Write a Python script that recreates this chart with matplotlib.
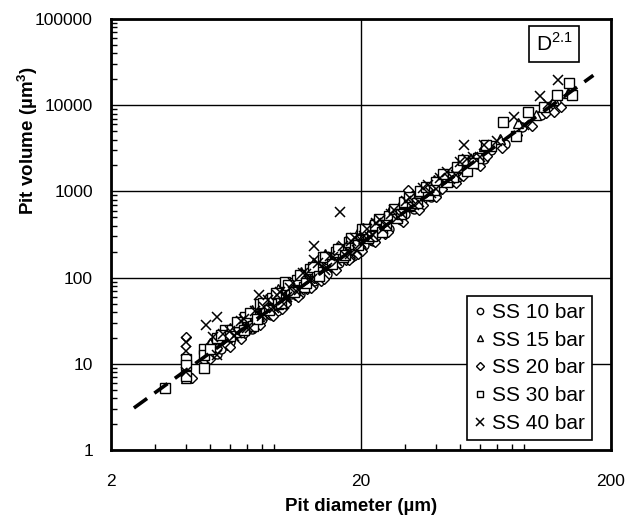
import matplotlib
matplotlib.use("Agg")
import matplotlib.pyplot as plt
from matplotlib.ticker import FixedLocator, LogLocator, NullFormatter, FixedFormatter

plt.rcParams['font.family'] = ['Liberation Sans', 'DejaVu Sans']
plt.rcParams['mathtext.fontset'] = 'custom'
plt.rcParams['mathtext.rm'] = 'Liberation Sans'
plt.rcParams['mathtext.bf'] = 'Liberation Sans:bold'

# ---- data ----
D10 = [4.0, 4.7, 5.3, 5.6, 6.0, 6.3, 6.7, 7.0, 7.3, 7.7, 8.0, 8.4, 8.8, 9.2, 9.6, 10.0, 10.5, 11.0, 11.6, 12.2,
       12.8, 13.5, 14.2, 15.0, 15.8, 16.7, 17.6, 18.5, 19.5, 20.6, 21.8, 23.0, 24.5, 26.0, 28.0, 30.0, 32.5, 35.0,
       38.0, 42.0, 46.0, 52.0, 58.0, 66.0, 75.0, 88.0, 105.0, 120.0,
       5.0, 5.5, 6.1, 6.6, 7.1, 7.6, 8.2, 8.7, 9.3, 9.9, 10.7, 11.4, 12.0, 13.0, 13.8, 14.6, 15.4, 16.3, 17.2, 18.1,
       19.0, 20.0, 21.2, 22.4, 23.8, 25.2, 27.0, 29.0, 31.0, 34.0, 37.0, 40.0, 44.0, 49.0, 55.0, 62.0]
V10 = [7.7, 11.5, 13, 18.8, 17.8, 23, 23.8, 30, 25.4, 33.4, 32.7, 44, 42, 41.3, 55.9, 52, 64, 63.7, 87, 83.5,
       82.7, 114, 109, 136, 138, 187, 181, 179, 236, 238, 312, 300, 380, 366, 529, 553, 620, 805,
       861, 1240, 1287, 1850, 2090, 3050, 3590, 5570, 7670, 11000,
       16.2, 14.9, 24.6, 20.6, 33.8, 29.3, 43.9, 36.8, 59.8, 51.1, 80, 64.8, 102, 90.5, 137, 109, 166, 146, 217, 171,
       256, 212, 337, 268, 412, 363, 537, 461, 718, 681, 1040, 904, 1430, 1467, 2288, 2406]

D15 = [4.0, 4.0, 4.7, 5.0, 5.6, 6.0, 6.5, 7.0, 7.5, 8.0, 8.5, 9.0, 9.5, 10.0, 10.6, 11.2, 11.8, 12.5, 13.2, 14.0,
       14.8, 15.6, 16.5, 17.5, 18.5, 19.6, 20.8, 22.0, 23.5, 25.0, 27.0, 29.0, 31.0, 33.5, 36.0, 39.0, 43.0, 48.0,
       54.0, 62.0, 72.0, 85.0, 100.0, 118.0, 135.0,
       5.3, 5.8, 6.3, 6.8, 7.3, 7.8, 8.3, 8.8, 9.3, 9.8, 10.3, 10.9, 11.5, 12.2, 12.9, 13.6, 14.4, 15.2, 16.0, 17.0,
       18.0, 19.1, 20.3, 21.5, 22.8, 24.2, 25.8, 27.6, 29.5, 32.0, 34.5, 37.5, 41.0, 45.0, 50.0, 57.0]
V15 = [6.8, 10.2, 13.1, 17.6, 20.5, 25.7, 28.1, 38.4, 36.5, 47.2, 45.3, 62.8, 62.4, 81.2, 75.3, 95.5, 90.2, 134, 125, 158,
       145, 206, 199, 244, 232, 357, 337, 424, 400, 516, 560, 732, 686, 955, 1024, 1362, 1424, 1876,
       2200, 3340, 4020, 6230, 7670, 11360, 13710,
       21.4, 20.4, 29.6, 28.4, 41.9, 36.1, 56.8, 48.7, 74.7, 58.4, 86.4, 76.3, 117, 96.7, 143, 116, 187, 154, 226, 194,
       289, 248, 372, 318, 458, 391, 572, 513, 729, 700, 1014, 1024, 1459, 1432, 2210, 2464]

D20 = [3.3, 4.0, 4.0, 4.2, 5.3, 5.8, 6.2, 6.6, 7.1, 7.6, 8.1, 8.6, 9.1, 9.7, 10.3, 10.9, 11.5, 12.2, 13.0, 13.8,
       14.6, 15.5, 16.4, 17.4, 18.4, 19.5, 20.7, 22.0, 23.4, 25.0, 26.8, 28.7, 30.8, 33.0, 35.5, 38.5, 42.0, 46.0,
       51.0, 57.0, 64.0, 73.0, 84.0, 97.0, 110.0, 118.0, 126.0,
       5.0, 5.5, 6.0, 6.4, 6.9, 7.4, 7.9, 8.4, 8.9, 9.4, 10.0, 10.6, 11.2, 11.9, 12.6, 13.4, 14.2, 15.0, 15.9, 16.9,
       17.9, 19.0, 20.2, 21.4, 22.7, 24.1, 25.7, 27.5, 29.4, 31.5, 34.0, 36.8, 40.0, 44.0, 48.0, 54.0, 60.0]
V20 = [5.3, 20.4, 8.1, 6.8, 15.3, 16.6, 23.3, 19.4, 28.2, 27.7, 42.8, 38.1, 47.5, 43.5, 67.9, 62.5, 93.4, 74.7, 100, 91,
       141, 131, 196, 158, 208, 189, 294, 273, 345, 318, 505, 477, 1050, 711, 704, 1080, 1062, 1430,
       1510, 2240, 2570, 3200, 4550, 5810, 8020, 8300, 9500,
       11.5, 19.8, 15.8, 27.2, 22.5, 38.5, 28.2, 48.2, 36.3, 61.1, 49.3, 81.9, 58.8, 100, 75.4, 134, 96.8, 163, 122, 210,
       158, 279, 203, 343, 259, 459, 337, 582, 446, 775, 606, 1072, 851, 1560, 1250, 2200, 1996]

D30 = [3.3, 4.0, 4.0, 4.0, 4.7, 4.7, 4.7, 5.3, 5.7, 6.1, 6.5, 6.9, 7.4, 7.9, 8.3, 8.8, 9.3, 9.9, 10.5, 11.1,
       11.8, 12.5, 13.3, 14.1, 15.0, 15.9, 16.9, 17.9, 19.0, 20.2, 21.4, 22.8, 24.3, 26.0, 27.8, 29.8, 32.0, 34.5,
       37.0, 40.0, 44.0, 48.5, 53.0, 59.0, 66.0, 74.0, 83.0, 93.0, 108.0, 122.0, 136.0, 140.0,
       5.0, 5.5, 6.0, 6.4, 6.8, 7.2, 7.7, 8.1, 8.6, 9.1, 9.6, 10.2, 10.8, 11.4, 12.1, 12.8, 13.6, 14.4, 15.3, 16.2,
       17.2, 18.3, 19.5, 20.8, 22.1, 23.6, 25.2, 27.0, 29.0, 31.2, 33.6, 36.3, 39.3, 42.6, 46.5, 51.0, 56.0, 63.0]
V30 = [5.2, 11.5, 9.8, 7.2, 15.0, 12.5, 9.0, 19.9, 24.9, 24.6, 23.4, 34.5, 27.7, 49.4, 43.1, 57.6, 49.8, 88, 70.5, 93.7,
       78, 125, 116, 175, 163, 199, 175, 256, 245, 370, 286, 409, 337, 517, 496, 746, 733, 1014,
       904, 1277, 1300, 1915, 1730, 2410, 3350, 6400, 4440, 8300, 9430, 13300, 18300, 13200,
       14.9, 21.5, 20.8, 30.6, 24.5, 39.2, 33.4, 50.2, 42.3, 66.5, 50.5, 81.5, 68.1, 107, 86.5, 131, 105, 174, 142, 216,
       181, 288, 236, 365, 306, 475, 404, 630, 542, 853, 738, 1130, 1026, 1581, 1462, 2308, 2158, 3459]

D40 = [4.0, 4.0, 4.0, 4.8, 5.3, 5.3, 5.1, 6.0, 6.4, 6.8, 7.2, 7.8, 8.2, 8.7, 9.2, 9.8, 10.4, 11.0, 11.7, 12.4,
       13.0, 13.0, 14.6, 15.4, 16.5, 17.2, 18.2, 19.3, 20.5, 21.7, 23.0, 24.6, 26.3, 28.2, 30.3, 32.7, 35.3, 38.2,
       41.5, 45.5, 50.0, 51.8, 56.0, 62.0, 70.0, 82.0, 90.0, 104.0, 112.0, 123.0,
       5.6, 6.2, 6.6, 7.0, 7.5, 8.0, 8.5, 9.0, 9.5, 10.1, 10.7, 11.3, 12.0, 12.7, 13.5, 14.3, 15.1, 16.0, 17.0, 18.0,
       19.0, 20.0, 21.2, 22.4, 23.8, 25.4, 27.2, 29.2, 31.4, 34.0, 37.0, 40.0, 44.0, 48.0, 53.0, 60.0]
V40 = [17.9, 14.1, 8.0, 28, 35, 12.5, 20.4, 23.8, 22.7, 33.5, 26.1, 63, 45.8, 43.3, 63.2, 50, 75.6, 70.8, 113, 91,
       232, 160, 128, 172, 576, 181, 265, 208, 300, 294, 433, 365, 552, 511, 772, 697, 1104, 966,
       1440, 1396, 2210, 3460, 2480, 3475, 3800, 7300, 5850, 12800, 10200, 19600,
       22.2, 21.2, 31.5, 26, 41.2, 36.3, 55.6, 44.2, 67.6, 59.2, 86.7, 71.1, 111, 95.7, 147, 123, 179, 156, 230, 189,
       290, 249, 365, 315, 465, 410, 616, 550, 832, 757, 1175, 1064, 1690, 1563, 2404, 2495]

series = [("SS 10 bar", "o", D10, V10, 6.5),
          ("SS 15 bar", "^", D15, V15, 7.0),
          ("SS 20 bar", "D", D20, V20, 5.5),
          ("SS 30 bar", "s", D30, V30, 7.0),
          ("SS 40 bar", "x", D40, V40, 7.5)]

fit_D = [2.47, 170.0]
fit_coef = 0.46
fit_exp = 2.1

xticks = [2, 20, 200]
yticks = [1, 10, 100, 1000, 10000, 100000]

# ---- figure ----
fig = plt.figure(figsize=(6.41, 5.20), dpi=100)
ax = fig.add_axes([111/641, 70/520, 500/641, 431/520])
ax.set_xscale('log')
ax.set_yscale('log')
ax.set_xlim(2, 200)
ax.set_ylim(1, 100000)

for label, m, D, V, ms in series:
    if m == 'x':
        ax.plot(D, V, linestyle='none', marker=m, markersize=ms, markeredgecolor='black',
                markeredgewidth=1.1, color='black', label=label, zorder=3)
    else:
        ax.plot(D, V, linestyle='none', marker=m, markersize=ms, markerfacecolor='white',
                markeredgecolor='black', markeredgewidth=1.0, label=label, zorder=3)

fit_V = [fit_coef * d ** fit_exp for d in fit_D]
ax.plot(fit_D, fit_V, color='black', linewidth=2.6, dashes=(4.5, 2.5), zorder=4)

ax.xaxis.set_major_locator(FixedLocator(xticks))
ax.xaxis.set_major_formatter(FixedFormatter([str(t) for t in xticks]))
ax.xaxis.set_minor_locator(LogLocator(base=10, subs=range(2, 10)))
ax.xaxis.set_minor_formatter(NullFormatter())
ax.yaxis.set_major_locator(FixedLocator(yticks))
ax.yaxis.set_major_formatter(FixedFormatter([str(t) for t in yticks]))
ax.yaxis.set_minor_locator(LogLocator(base=10, subs=range(2, 10)))
ax.yaxis.set_minor_formatter(NullFormatter())

ax.tick_params(which='major', length=0, labelsize=12.5, colors='black')
ax.tick_params(axis='x', which='major', pad=17)
ax.tick_params(axis='y', which='major', pad=13)
ax.tick_params(which='minor', direction='in', length=4, width=1, top=False, right=False)

ax.grid(True, which='major', color='black', linewidth=1.0)
ax.set_axisbelow(True)
for s in ax.spines.values():
    s.set_linewidth(2.0)
    s.set_color('black')

ax.set_xlabel('Pit diameter (µm)', fontsize=13.5, fontweight='bold', labelpad=7)
ax.set_ylabel('Pit volume (µm$^{\\mathbf{3}}$)', fontsize=13.5, fontweight='bold')
ax.yaxis.set_label_coords((40 - 111) / 500, (450 - 140) / 431)

leg = ax.legend(loc='lower right', bbox_to_anchor=((592 - 111) / 500, 0.023), borderaxespad=0,
                fontsize=15, markerscale=0.7, handlelength=0.6, handletextpad=0.25,
                labelspacing=0.42, borderpad=0.35, fancybox=False, framealpha=1,
                edgecolor='black')
leg.get_frame().set_linewidth(1.2)

ax.text(0.886, 0.942, 'D$^{2.1}$', transform=ax.transAxes, fontsize=15, ha='center', va='center',
        bbox=dict(boxstyle='square,pad=0.3', facecolor='white', edgecolor='black', linewidth=1.2), zorder=5)

fig.savefig('out.png', dpi=100)
